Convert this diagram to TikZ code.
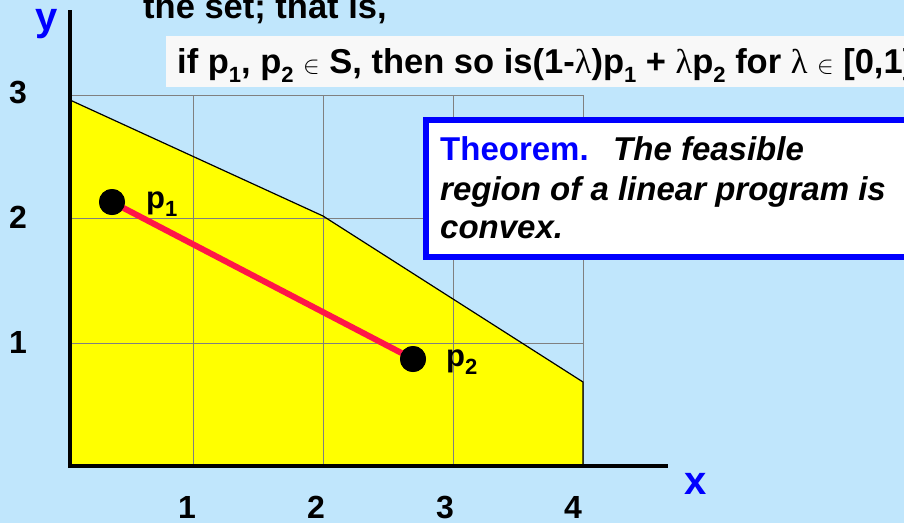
\documentclass[tikz,border=0pt]{standalone}
\usepackage{fontspec}
\setmainfont{Liberation Sans}
\newfontfamily\narrowf[FakeStretch=1.0]{Liberation Sans}
\newfontfamily\lamf{Liberation Serif}
\definecolor{bg}{RGB}{192,230,252}
\definecolor{feas}{RGB}{255,255,0}
\definecolor{segred}{RGB}{255,22,72}
\definecolor{boxgray}{RGB}{248,248,248}
\definecolor{gridgray}{RGB}{128,128,128}
\definecolor{thmblue}{RGB}{0,0,255}
\newcommand\sbs[1]{\raisebox{-0.28em}{\fontsize{22}{22}\selectfont #1}}
\newcommand\lam{{\lamf\mdseries λ}}
\tikzset{
  gridline/.style={draw=gridgray, line width=1pt},
  axisline/.style={draw=black, line width=4pt},
  dotnode/.style={circle, fill=black, minimum size=26pt, inner sep=0pt},
  ticklab/.style={anchor=base, inner sep=0pt, font=\fontsize{32}{36}\selectfont\bfseries},
  axlab/.style={anchor=center, inner sep=0pt, text=thmblue, font=\fontsize{40}{44}\selectfont\bfseries},
  plab/.style={anchor=base west, inner sep=0pt, font=\fontsize{31}{36}\selectfont\bfseries},
  toptext/.style={anchor=base west, inner sep=0pt, font=\narrowf\fontsize{34.5}{40}\selectfont\bfseries},
  thmtext/.style={anchor=base west, inner sep=0pt, font=\fontsize{33}{40}\selectfont\bfseries\itshape},
}
\begin{document}
\begin{tikzpicture}[x=1pt,y=-1pt]
\useasboundingbox (0,0) rectangle (904,523);
\fill[bg] (0,0) rectangle (904,523);
% feasible region
\fill[feas] (70,100) -- (323,216) -- (583,382) -- (583,466) -- (70,466) -- cycle;
% grid
\foreach \x in {193,323,453,583} \draw[gridline] (\x,95) -- (\x,466);
\foreach \y in {95,218,343} \draw[gridline] (70,\y) -- (583,\y);
% region outline
\draw[line width=1.2pt] (70,100) -- (323,216) -- (583,382) -- (583,466);
% axes
\coordinate (ytop) at (70,10);
\coordinate (ybot) at (70,468);
\coordinate (xleft) at (68,466);
\coordinate (xright) at (668,466);
\draw[axisline] (ybot) -- (ytop);
\draw[axisline] (xleft) -- (xright);
\node[axlab] (ylab) at (47,24) {y};
\node[axlab] (xlab) at (696,484) {x};
% ticks
\node[ticklab] (ty3) at (18,103) {3};
\node[ticklab] (ty2) at (18,228) {2};
\node[ticklab] (ty1) at (18,353) {1};
\node[ticklab] (tx1) at (187,518) {1};
\node[ticklab] (tx2) at (316,518) {2};
\node[ticklab] (tx3) at (445,518) {3};
\node[ticklab] (tx4) at (573,518) {4};
% points
\node[dotnode] (p1) at (112,202) {};
\node[dotnode] (p2) at (413,359) {};
\draw[segred, line width=6pt] (p1.center) -- (p2.center);
\node[dotnode] at (p1) {};
\node[dotnode] at (p2) {};
\node[plab] (p1lab) at (146,208) {p\sbs{1}};
\node[plab] (p2lab) at (446,366) {p\sbs{2}};
% top texts
\node[toptext] (settext) at (143,18) {the set; that is,};
\fill[boxgray] (166,36) rectangle (910,87);
\node[toptext] (iftext) at (177,73) {if p\sbs{1}, p\sbs{2} {\mdseries$\in$} S, then so is(1-\lam)p\sbs{1} + \lam p\sbs{2} for \lam\ {\mdseries$\in$} [0,1]};
% theorem box
\draw[thmblue, line width=6pt, fill=white] (426,120) rectangle (930,257);
\node[thmtext, text=thmblue, font=\fontsize{33}{40}\selectfont\bfseries\upshape] (thm) at (440,160) {Theorem.};
\node[thmtext] (thm1) at (613,160) {The feasible};
\node[thmtext] (thm2) at (440,200) {region of a linear program is};
\node[thmtext] (thm3) at (440,238) {convex.};
\end{tikzpicture}
\end{document}
